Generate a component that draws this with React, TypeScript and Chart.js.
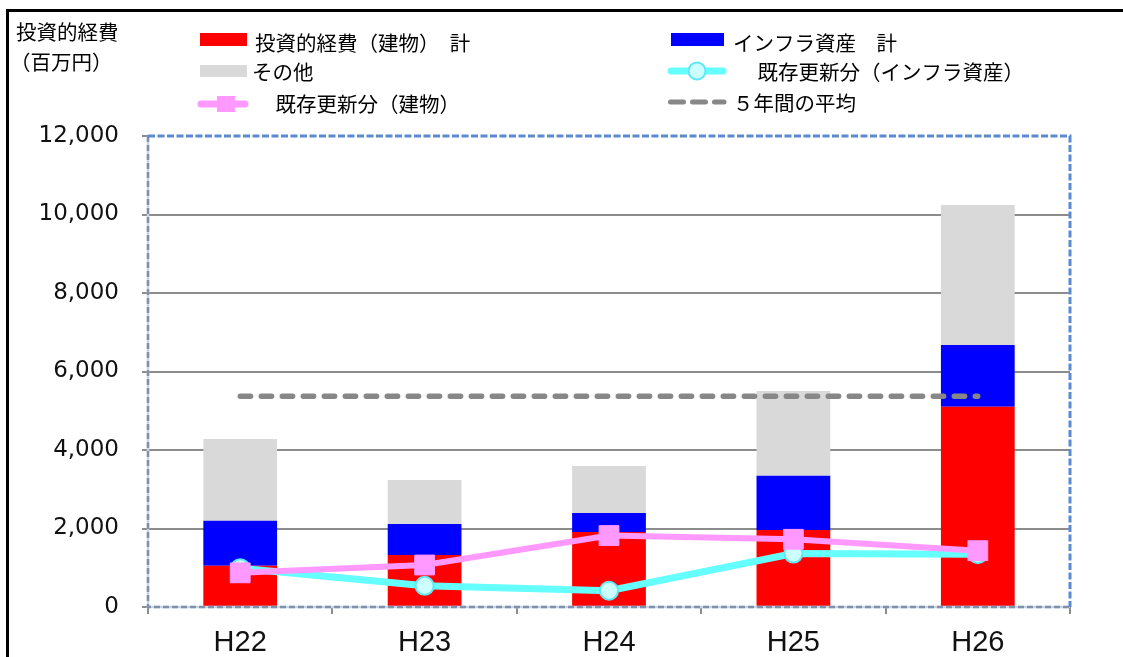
import { useEffect, useRef } from "react";
import { Chart, registerables } from "chart.js";

Chart.register(...registerables);

// Fiscal years (平成)
const categories = ["H22", "H23", "H24", "H25", "H26"];

// Stacked bar series (百万円)
const buildingTotal = [1050, 1325, 1910, 1960, 5100];
const infraTotal = [1150, 790, 485, 1385, 1575];
const otherCosts = [2080, 1120, 1200, 2160, 3570];

// Line series (百万円)
const infraRenewal = [990, 540, 415, 1360, 1345];
const buildingRenewal = [870, 1070, 1820, 1725, 1435];
const fiveYearAverage = [5370, 5370, 5370, 5370, 5370];

// Axis settings
const yMin = 0;
const yMax = 12000;
const yStep = 2000;

// Labels
const seriesLabels = [
  "投資的経費（建物）　計",
  "インフラ資産　計",
  "その他",
  "　既存更新分（インフラ資産）",
  "　既存更新分（建物）",
  "５年間の平均",
];
const yTitleLines = ["投資的経費", "（百万円）"];

const RED = "#ff0000";
const BLUE = "#0000ff";
const GRAY = "#d9d9d9";
const PINK = "#ff99ff";
const CYAN = "#66ffff";
const CYAN_FILL = "#ccffff";
const AVG = "#878787";
const GRID = "#8c8c8c";
const CJK = '"Noto Sans CJK JP", "Noto Sans", sans-serif';

const decorPlugin = {
  id: "decor",
  beforeDraw(chart: any) {
    const { ctx, width, height } = chart;
    ctx.save();
    ctx.fillStyle = "#ffffff";
    ctx.fillRect(0, 0, width, height);
    // outer frame (top and left edges)
    ctx.fillStyle = "#000000";
    ctx.fillRect(6, 9, width - 6, 3);
    ctx.fillRect(6, 9, 3, height - 9);
    ctx.restore();
  },
  afterDatasetsDraw(chart: any) {
    const { ctx, chartArea } = chart;
    const { left, right, top, bottom } = chartArea;
    ctx.save();
    ctx.lineCap = "butt";
    // left and bottom edges
    ctx.strokeStyle = "#c9d5e6";
    ctx.lineWidth = 2.5;
    ctx.setLineDash([]);
    ctx.beginPath();
    ctx.moveTo(left, top);
    ctx.lineTo(left, bottom);
    ctx.lineTo(right, bottom);
    ctx.stroke();
    ctx.strokeStyle = "#8091ab";
    ctx.setLineDash([6, 3]);
    ctx.beginPath();
    ctx.moveTo(left, top);
    ctx.lineTo(left, bottom);
    ctx.lineTo(right, bottom);
    ctx.stroke();
    // top and right edges
    ctx.strokeStyle = "#5a8ad0";
    ctx.lineWidth = 3;
    ctx.setLineDash([7, 2.5]);
    ctx.beginPath();
    ctx.moveTo(left, top);
    ctx.lineTo(right, top);
    ctx.lineTo(right, bottom);
    ctx.stroke();
    ctx.restore();
  },
  afterDraw(chart: any) {
    const { ctx } = chart;
    ctx.save();
    ctx.fillStyle = "#000000";
    ctx.textBaseline = "middle";
    ctx.textAlign = "left";
    ctx.font = `20.5px ${CJK}`;

    // axis title
    ctx.fillText(yTitleLines[0], 16, 32);
    ctx.fillText(yTitleLines[1], 10, 62);

    // legend, left column
    ctx.fillStyle = RED;
    ctx.fillRect(200, 33, 47, 13);
    ctx.fillStyle = GRAY;
    ctx.fillRect(200, 65, 47, 12);
    ctx.strokeStyle = PINK;
    ctx.lineWidth = 7;
    ctx.lineCap = "round";
    ctx.beginPath();
    ctx.moveTo(201, 104);
    ctx.lineTo(245, 104);
    ctx.stroke();
    ctx.fillStyle = PINK;
    ctx.fillRect(217, 96, 18, 16);

    ctx.fillStyle = "#000000";
    ctx.fillText(seriesLabels[0], 255, 43);
    ctx.fillText(seriesLabels[2], 252, 72);
    ctx.fillText(seriesLabels[4], 255, 104);

    // legend, right column
    ctx.fillStyle = BLUE;
    ctx.fillRect(671, 33, 53, 13);
    ctx.strokeStyle = CYAN;
    ctx.lineWidth = 7;
    ctx.beginPath();
    ctx.moveTo(671, 71);
    ctx.lineTo(723, 71);
    ctx.stroke();
    ctx.beginPath();
    ctx.arc(697, 71, 8.5, 0, Math.PI * 2);
    ctx.fillStyle = CYAN_FILL;
    ctx.fill();
    ctx.lineWidth = 2;
    ctx.strokeStyle = "#5fe8f5";
    ctx.stroke();
    ctx.strokeStyle = AVG;
    ctx.lineWidth = 5;
    ctx.setLineDash([13, 9]);
    ctx.beginPath();
    ctx.moveTo(670.5, 102);
    ctx.lineTo(724, 102);
    ctx.stroke();
    ctx.setLineDash([]);

    ctx.fillStyle = "#000000";
    ctx.fillText(seriesLabels[1], 733, 43);
    ctx.fillText(seriesLabels[3], 737, 72);
    ctx.fillText(seriesLabels[5], 733, 103);
    ctx.restore();
  },
};

export default function App() {
  const canvasRef = useRef<HTMLCanvasElement | null>(null);

  useEffect(() => {
    if (!canvasRef.current) return;
    const barCommon = {
      type: "bar" as const,
      stack: "bars",
      order: 10,
      barPercentage: 0.4,
      categoryPercentage: 1,
      borderWidth: 0,
    };
    const chart = new Chart(canvasRef.current, {
      type: "bar",
      data: {
        labels: categories,
        datasets: [
          { ...barCommon, label: seriesLabels[0], data: buildingTotal, backgroundColor: RED },
          { ...barCommon, label: seriesLabels[1], data: infraTotal, backgroundColor: BLUE },
          { ...barCommon, label: seriesLabels[2], data: otherCosts, backgroundColor: GRAY },
          {
            type: "line",
            label: seriesLabels[5],
            data: fiveYearAverage,
            stack: "avg",
            order: 2,
            borderColor: AVG,
            borderWidth: 5.3,
            borderDash: [10.5, 10.5],
            borderCapStyle: "round",
            pointRadius: 0,
            tension: 0,
          },
          {
            type: "line",
            label: seriesLabels[3],
            data: infraRenewal,
            stack: "infra",
            order: 1,
            borderColor: CYAN,
            borderWidth: 7,
            pointStyle: "circle",
            pointRadius: 9,
            pointBorderWidth: 2,
            pointBackgroundColor: CYAN_FILL,
            pointBorderColor: "#5fe8f5",
            tension: 0,
          },
          {
            type: "line",
            label: seriesLabels[4],
            data: buildingRenewal,
            stack: "building",
            order: 0,
            borderColor: PINK,
            borderWidth: 6,
            pointStyle: "rect",
            pointRadius: 14,
            pointBorderWidth: 1,
            pointBackgroundColor: PINK,
            pointBorderColor: PINK,
            tension: 0,
          },
        ] as any,
      },
      options: {
        animation: false,
        responsive: false,
        events: [],
        layout: { padding: { left: 0, right: 53, top: 136, bottom: 0 } },
        plugins: {
          legend: { display: false },
          tooltip: { enabled: false },
          title: { display: false },
        },
        scales: {
          x: {
            stacked: true,
            offset: true,
            border: { display: false },
            grid: {
              display: true,
              offset: true,
              drawOnChartArea: false,
              drawTicks: true,
              tickLength: 7,
              tickColor: GRID,
              lineWidth: 2,
            },
            ticks: {
              color: "#111111",
              padding: 12,
              font: { family: '"Liberation Sans", Arial, sans-serif', size: 29 },
            },
            afterFit(scale: any) {
              scale.height = 50;
            },
          },
          y: {
            stacked: true,
            min: yMin,
            max: yMax,
            border: { display: false },
            grid: {
              color: (c: any) =>
                c.tick && (c.tick.value === yMin || c.tick.value === yMax) ? "rgba(0,0,0,0)" : GRID,
              tickColor: GRID,
              lineWidth: 2,
              drawTicks: true,
              tickLength: 6,
            },
            ticks: {
              stepSize: yStep,
              color: "#111111",
              padding: 23,
              font: { family: '"DejaVu Sans", sans-serif', size: 23 },
              callback: (v: any) => Number(v).toLocaleString("en-US"),
            },
            afterFit(scale: any) {
              scale.width = 148;
            },
          },
        },
      },
      plugins: [decorPlugin],
    });
    return () => chart.destroy();
  }, []);

  return (
    <div style={{ position: "absolute", left: 0, top: 0, width: 1123, height: 657, overflow: "hidden" }}>
      <canvas ref={canvasRef} width={1123} height={657} style={{ display: "block" }} />
    </div>
  );
}
